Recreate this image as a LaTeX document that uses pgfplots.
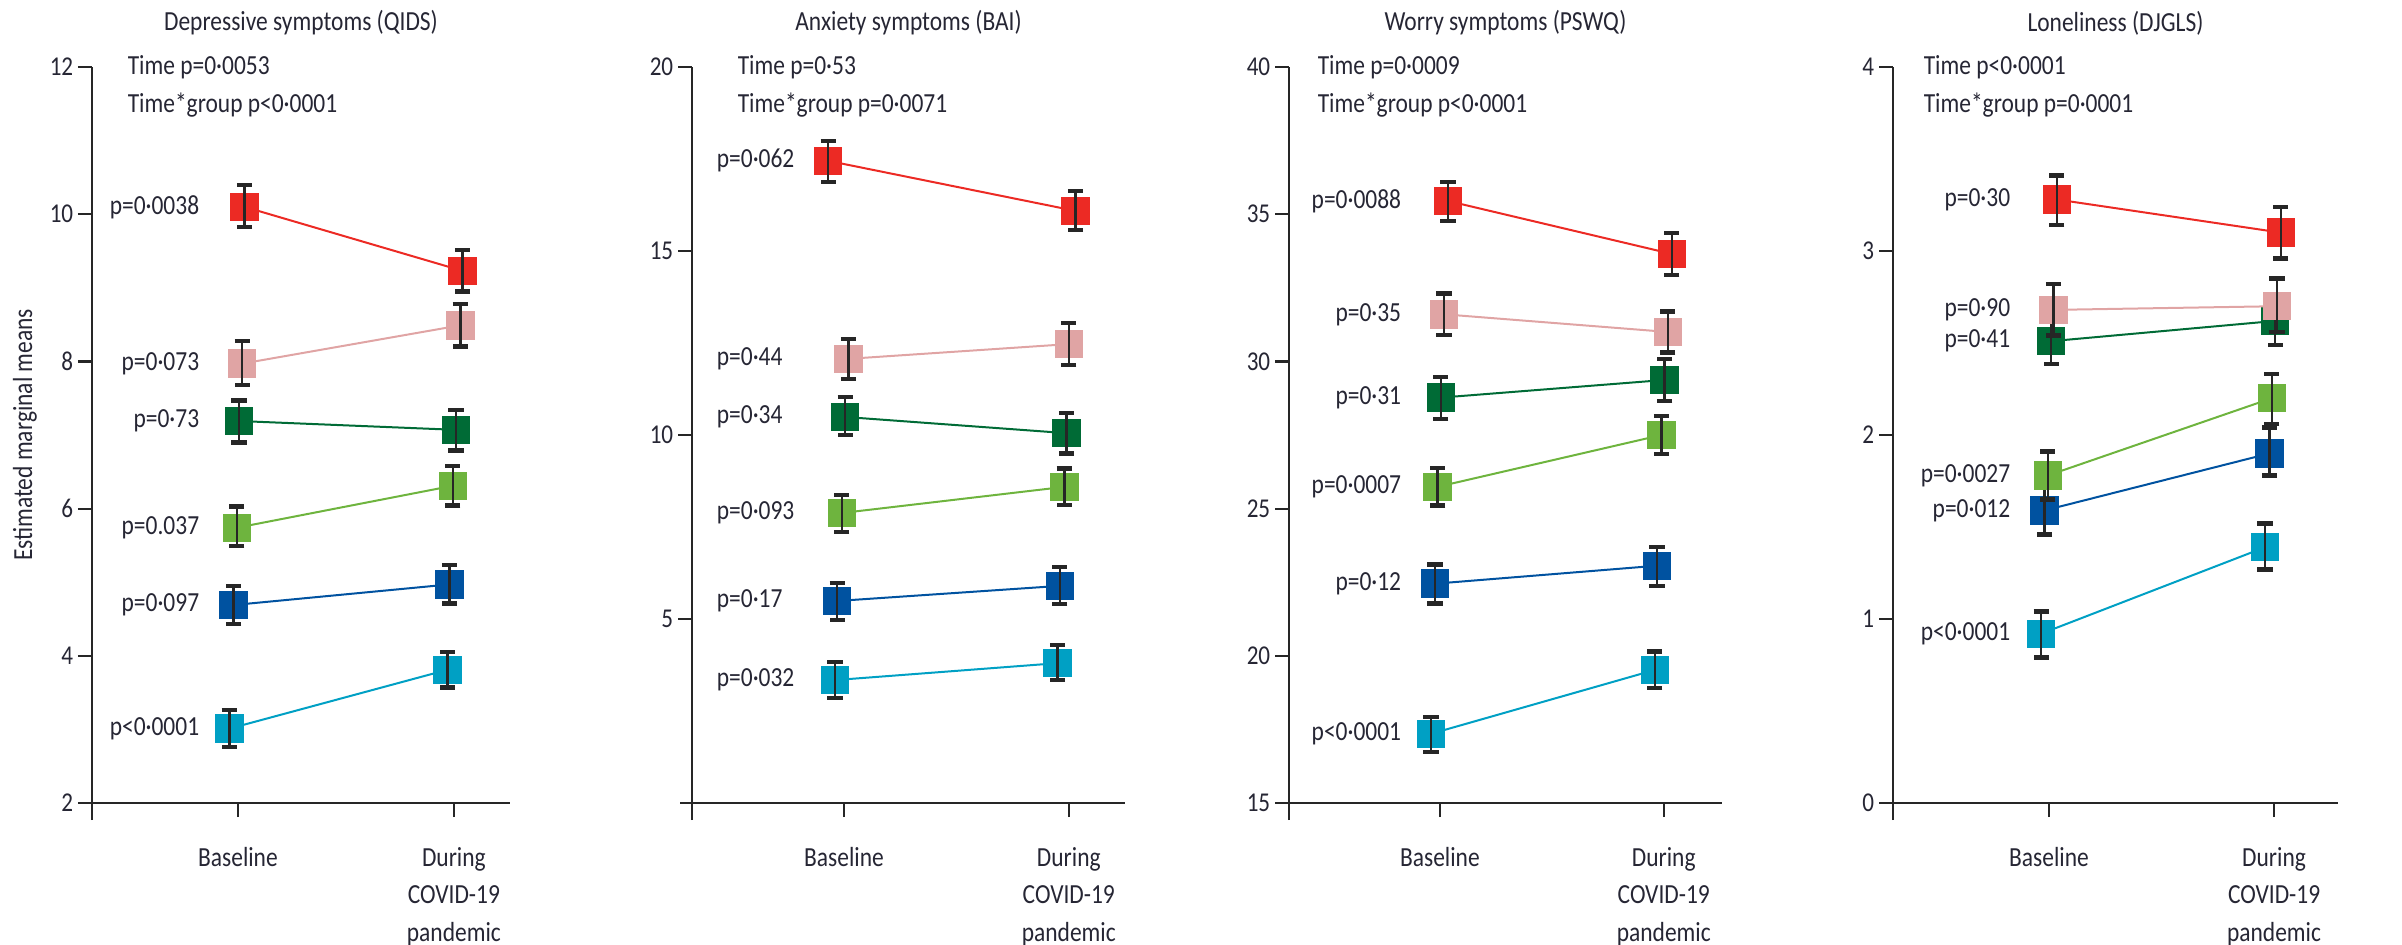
\documentclass[border=0pt]{standalone}
\usepackage{fontspec}
\setmainfont{Carlito}[FakeStretch=0.85]
\usepackage{pgfplots}
\pgfplotsset{compat=1.18}

\definecolor{txt}{RGB}{38,38,52}
\definecolor{cRed}{RGB}{236,42,36}
\definecolor{cPink}{RGB}{224,164,164}
\definecolor{cDkGreen}{RGB}{0,107,54}
\definecolor{cLtGreen}{RGB}{110,180,62}
\definecolor{cBlue}{RGB}{0,82,160}
\definecolor{cCyan}{RGB}{0,160,196}

\newcommand{\lab}{\fontsize{6.9}{8}\selectfont}

\pgfplotsset{
  panel/.style={
    scale only axis, height=184pt, anchor=south west,
    axis lines=left,
    axis line style={-, draw=black!85, line width=0.55pt},
    x axis line style={shorten <=-3pt},
    y axis line style={shorten <=-4.25pt},
    tick align=outside, major tick length=3.5pt,
    tick style={black!85, line width=0.55pt},
    xtick={1,2}, xticklabels={Baseline,{During\\COVID-19\\pandemic}},
    xticklabel style={align=center, font=\fontsize{6.9}{9.4}\selectfont, yshift=-4pt},
    yticklabel style={font=\fontsize{6.8}{8}\selectfont, inner sep=1pt},
    /pgf/number format/assume math mode=true,
    tick label style={text=txt},
    clip=false, clip marker paths=true,
  },
}

% one group: colour, rows "x y err+ err-"
\newcommand{\grp}[2]{%
  \addplot[#1, line width=0.5pt, mark=square*, mark size=3.3pt,
    mark options={draw=none, fill=#1}]
    table[row sep=\\, x index=0, y index=1] {#2};
  \addplot[draw=none, mark=none, forget plot,
    error bars/.cd, y dir=both, y explicit,
    error bar style={draw=black!85, line width=0.6pt},
    error mark options={draw=black!85, rotate=90, mark size=1.9pt, line width=1.1pt}]
    table[row sep=\\, x index=0, y index=1, y error plus index=2, y error minus index=3] {#2};
}
% p label right-aligned left of the baseline point
\newcommand{\plab}[2]{\node[anchor=east, inner sep=0pt, text=txt, font=\lab] at ([xshift=-9.5pt]axis cs:1,#1) {#2};}
% title and the two stats lines
\newcommand{\head}[4]{%
  \node[text=txt, font=\lab] at ([yshift=11pt]rel axis cs:0.5,1) {#1};
  \node[anchor=west, inner sep=0pt, text=txt, font=\lab] at ([xshift=#4]rel axis cs:0,1) {#2};
  \node[anchor=west, inner sep=0pt, text=txt, font=\lab] at ([xshift=#4, yshift=-9.5pt]rel axis cs:0,1) {#3};
}

\begin{document}
\begin{tikzpicture}

% Depressive symptoms
\begin{axis}[panel, at={(23pt,35.25pt)}, width=104.5pt,
  xmin=0.324, xmax=2.26, ymin=2, ymax=12, ytick={2,4,...,12}]
\grp{cCyan}{0.96 3.01 0.25 0.25\\ 1.97 3.81 0.24 0.24\\}
\grp{cBlue}{0.98 4.69 0.26 0.26\\ 1.98 4.97 0.26 0.26\\}
\grp{cLtGreen}{0.995 5.74 0.29 0.25\\ 1.995 6.31 0.27 0.27\\}
\grp{cDkGreen}{1.005 7.19 0.28 0.29\\ 2.01 7.07 0.27 0.28\\}
\grp{cPink}{1.02 7.97 0.31 0.29\\ 2.03 8.49 0.29 0.29\\}
\grp{cRed}{1.03 10.10 0.30 0.27\\ 2.04 9.23 0.28 0.28\\}
\plab{10.10}{p=0·0038}
\plab{7.97}{p=0·073}
\plab{7.19}{p=0·73}
\plab{5.74}{p=0.037}
\plab{4.69}{p=0·097}
\plab{3.01}{p<0·0001}
\head{Depressive symptoms (QIDS)}{Time p=0·0053}{Time*group p<0·0001}{8.75pt}
\node[rotate=90, text=txt, font=\lab] at ([xshift=-16.75pt]rel axis cs:0,0.5) {Estimated marginal means};
\end{axis}

% Anxiety symptoms
\begin{axis}[panel, at={(173pt,35.25pt)}, width=108.25pt,
  xmin=0.324, xmax=2.25, ymin=0, ymax=20, ytick={5,10,15,20}]
\grp{cCyan}{0.96 3.34 0.49 0.49\\ 1.95 3.80 0.49 0.46\\}
\grp{cBlue}{0.97 5.49 0.49 0.52\\ 1.96 5.90 0.51 0.50\\}
\grp{cLtGreen}{0.99 7.88 0.49 0.52\\ 1.98 8.59 0.50 0.49\\}
\grp{cDkGreen}{1.005 10.49 0.54 0.49\\ 1.99 10.05 0.55 0.55\\}
\grp{cPink}{1.02 12.07 0.54 0.55\\ 2.00 12.47 0.57 0.57\\}
\grp{cRed}{0.93 17.45 0.54 0.57\\ 2.03 16.09 0.54 0.52\\}
\foreach \v/\t in {17.45/p=0·062, 12.07/p=0·44, 10.49/p=0·34, 7.88/p=0·093, 5.49/p=0·17, 3.34/p=0·032}{
  \edef\tmp{\noexpand\node[anchor=west, inner sep=0pt, text=txt, font=\noexpand\lab] at (axis cs:0.431,\v) {\t};}\tmp
}
\head{Anxiety symptoms (BAI)}{Time p=0·53}{Time*group p=0·0071}{11.25pt}
\end{axis}

% Worry symptoms
\begin{axis}[panel, at={(322.25pt,35.25pt)}, width=108.25pt,
  xmin=0.326, xmax=2.26, ymin=15, ymax=40, ytick={15,20,...,40}]
\grp{cCyan}{0.96 17.35 0.58 0.61\\ 1.96 19.52 0.62 0.61\\}
\grp{cBlue}{0.978 22.45 0.65 0.68\\ 1.97 23.06 0.64 0.68\\}
\grp{cLtGreen}{0.99 25.74 0.64 0.64\\ 1.99 27.50 0.65 0.64\\}
\grp{cDkGreen}{1.004 28.77 0.70 0.72\\ 2.004 29.37 0.71 0.71\\}
\grp{cPink}{1.018 31.60 0.70 0.70\\ 2.018 31.00 0.70 0.70\\}
\grp{cRed}{1.036 35.45 0.65 0.68\\ 2.036 33.65 0.72 0.71\\}
\plab{35.45}{p=0·0088}
\plab{31.60}{p=0·35}
\plab{28.77}{p=0·31}
\plab{25.74}{p=0·0007}
\plab{22.45}{p=0·12}
\plab{17.35}{p<0·0001}
\head{Worry symptoms (PSWQ)}{Time p=0·0009}{Time*group p<0·0001}{7pt}
\end{axis}

% Loneliness
\begin{axis}[panel, at={(473.25pt,35.25pt)}, width=111.25pt,
  xmin=0.307, xmax=2.284, ymin=0, ymax=4, ytick={0,1,...,4}]
\grp{cCyan}{0.965 0.92 0.12 0.13\\ 1.96 1.39 0.13 0.12\\}
\grp{cBlue}{0.98 1.59 0.13 0.13\\ 1.98 1.90 0.14 0.12\\}
\grp{cLtGreen}{0.995 1.78 0.13 0.13\\ 1.99 2.20 0.13 0.14\\}
\grp{cDkGreen}{1.01 2.51 0.125 0.125\\ 2.005 2.62 0.14 0.13\\}
\grp{cPink}{1.02 2.68 0.14 0.14\\ 2.013 2.70 0.15 0.14\\}
\grp{cRed}{1.035 3.28 0.13 0.14\\ 2.03 3.10 0.14 0.14\\}
\plab{3.28}{p=0·30}
\plab{2.68}{p=0·90}
\plab{2.51}{p=0·41}
\plab{1.78}{p=0·0027}
\plab{1.59}{p=0·012}
\plab{0.92}{p<0·0001}
\head{Loneliness (DJGLS)}{Time p<0·0001}{Time*group p=0·0001}{7.5pt}
\end{axis}

\pgfresetboundingbox
\useasboundingbox (0,0) rectangle (600.5pt,236pt);
\end{tikzpicture}
\end{document}
